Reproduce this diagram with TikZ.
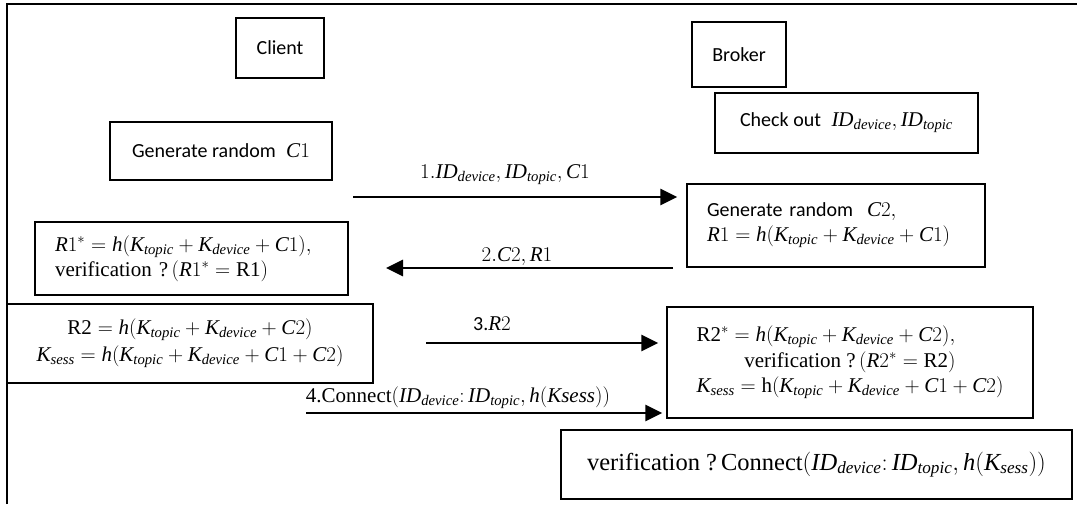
\RequirePackage{fix-cm}
\documentclass[tikz,border=0pt]{standalone}
\usepackage{fontspec}
\setmainfont{Liberation Serif}
\newfontfamily\calibri{Carlito}
\usetikzlibrary{arrows.meta,calc}

% italic variables set with the text italic
\newcommand\mv[1]{\mathit{#1}}
\newcommand\Kt{\mv{K}_{\mv{topic}}}
\newcommand\Kd{\mv{K}_{\mv{device}}}
\newcommand\Ks{\mv{K}_{\mv{sess}}}
\newcommand\IDd{\mv{ID}_{\mv{device}}}
\newcommand\IDt{\mv{ID}_{\mv{topic}}}
\newcommand\sanstxt[1]{{\calibri\fontsize{20}{25}\selectfont #1}}
\newsavebox\keyline

\begin{document}
\begin{tikzpicture}[x=1pt,y=-1pt,
  every node/.style={font=\fontsize{21}{25}\selectfont},
  box/.style={draw, line width=1.4pt, inner sep=0pt},
  flow/.style={line width=2.8pt, -{Triangle[length=17pt,width=16pt]}},
  lbl/.style={inner sep=0pt}]
\useasboundingbox (0,0) rectangle (1077,504);

% outer frame (top and left edges only)
\draw[line width=2.2pt] (7,504) -- (7,4) -- (1077,4);

% parties
\node[box, minimum width=88pt, minimum height=60pt] (client) at (280,48) {\sanstxt{Client}};
\node[box, minimum width=94pt, minimum height=65pt] (broker) at (739,54.5) {\sanstxt{Broker}};

% broker side
\node[box, minimum width=263pt, minimum height=60pt] (checkout) at (846.5,123)
  {\sanstxt{Check out}\ \ $\IDd, \IDt$};
\node[box, inner xsep=20pt, text width=258pt, align=left, minimum height=83pt] (genc2) at (836,225.5)
  {\mbox{\sanstxt{Generate random}\ \ $\mv{C}2,$}\\
   \mbox{$\mv{R}1 = \mv{h}(\Kt + \Kd + \mv{C}1)$}};
\node[box, minimum width=366pt, minimum height=111pt, align=center,
      font=\fontsize{21}{25.5}\selectfont] (r2star) at (850,362.5)
  {\global\setbox\keyline=\hbox{$\Ks = \mathrm{h}\bigl(\Kt + \Kd + \mv{C}1 + \mv{C}2\bigr)$}%
   \makebox[\wd\keyline][l]{$\mathrm{R2}^{*} = \mv{h}\bigl(\Kt + \Kd + \mv{C}2\bigr),$}\\
   verification ?\,$(\mv{R}2^{*} = \mathrm{R2})$\\
   \usebox\keyline};
\node[box, minimum width=511pt, minimum height=69pt, font=\fontsize{24.5}{28}\selectfont] (final) at (816.5,464.5)
  {verification ?\,Connect$(\IDd\colon \IDt, \mv{h}(\Ks))$};

% client side
\node[box, minimum width=222pt, minimum height=58pt] (genc1) at (221,151)
  {\sanstxt{Generate random}\ \ $\mv{C}1$};
\node[box, inner xsep=20pt, text width=273pt, align=left, minimum height=73pt] (r1star) at (191.5,258.5)
  {\mbox{$\mv{R}1^{*} = \mv{h}\bigl(\Kt + \Kd + \mv{C}1\bigr),$}\\
   \mbox{verification ?\,$(\mv{R}1^{*} = \mathrm{R1})$}};
\node[box, minimum width=366pt, minimum height=79pt, align=center,
      font=\fontsize{21}{27}\selectfont] (r2) at (190,343.5)
  {$\mathrm{R2} = \mv{h}\bigl(\Kt + \Kd + \mv{C}2\bigr)$\\
   $\Ks = \mv{h}\bigl(\Kt + \Kd + \mv{C}1 + \mv{C}2\bigr)$};

% message arrows
\coordinate (t1) at (353,197);
\draw[flow, shorten >=9pt] (t1) -- (t1 -| genc2.west);
\node[lbl] (m1) at (505,175) {$1.\IDd, \IDt, \mv{C}1$};

\coordinate (t2) at (673,268);
\coordinate (h2) at (386,268);
\draw[flow] (t2) -- (h2);
\node[lbl] (m2) at (517,257) {$2.\mv{C}2, \mv{R}1$};

\coordinate (t3) at (426,343);
\draw[flow, shorten >=8pt] (t3) -- (t3 -| r2star.west);
\node[lbl] (m3) at (492,324) {\sanstxt{3.}$\mv{R}2$};

\coordinate (t4) at (306,413);
\draw[flow, shorten >=4pt] (t4) -- (t4 -| r2star.west);
\node[lbl] (m4) at (458,398) {4.Connect$(\IDd\colon \IDt, \mv{h}(\mv{Ksess}))$};
\end{tikzpicture}
\end{document}
